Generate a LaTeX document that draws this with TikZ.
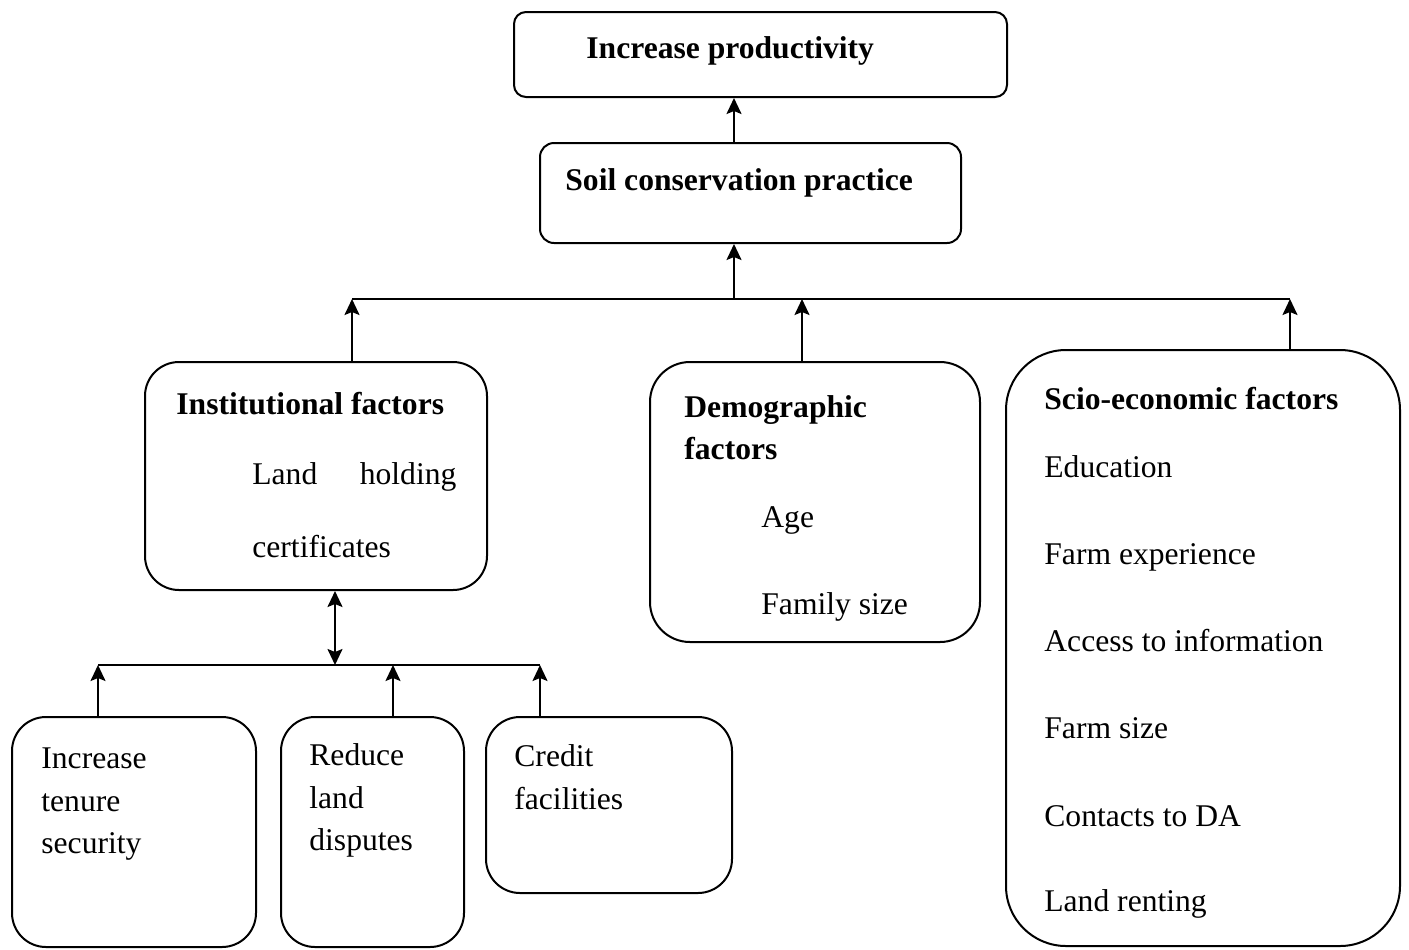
\documentclass[tikz,border=0pt]{standalone}
\usepackage{fontspec}
\setmainfont{Liberation Serif}
\usetikzlibrary{arrows.meta}
\begin{document}
\begin{tikzpicture}[x=0.5pt,y=-0.5pt,
  box/.style={draw,line width=1pt,inner sep=0pt},
  lbl/.style={anchor=base west,inner sep=0pt,font=\fontsize{15.8}{19}\selectfont},
  blbl/.style={anchor=base west,inner sep=0pt,font=\fontsize{15.8}{19}\selectfont\bfseries},
  link/.style={line width=1pt},
  tip/.tip={Stealth[length=8pt,width=7.5pt,inset=1.5pt]},
  arr/.style={link,-tip},
  darr/.style={link,tip-tip}]
\useasboundingbox (0,0) rectangle (1409,949);

% boxes
\node[box,rounded corners=6pt,minimum width=246.5pt,minimum height=42.5pt] (top) at (760.5,54.5) {};
\node[box,rounded corners=7pt,minimum width=210.5pt,minimum height=50pt] (soil) at (750.5,193) {};
\node[box,rounded corners=17pt,minimum width=171pt,minimum height=114pt] (inst) at (316,476) {};
\node[box,rounded corners=20pt,minimum width=165pt,minimum height=140pt] (demo) at (815,502) {};
\node[box,rounded corners=30pt,minimum width=197pt,minimum height=298pt] (scio) at (1203,648) {};
\node[box,rounded corners=17pt,minimum width=122pt,minimum height=115pt] (boxA) at (134,832) {};
\node[box,rounded corners=17pt,minimum width=91.5pt,minimum height=115pt] (boxB) at (372.5,832) {};
\node[box,rounded corners=17pt,minimum width=123pt,minimum height=88pt] (boxC) at (609,805) {};

% texts
\node[blbl] (tTop) at (586,58) {Increase productivity};
\node[blbl] (tSoil) at (565,190) {Soil conservation practice};

\node[blbl] (tInst) at (176,414) {Institutional factors};
\node[lbl] (tInst1) at (252,484) {\makebox[102pt][s]{Land holding}};
\node[lbl] (tInst2) at (252,557) {certificates};

\node[blbl] (tDemo) at (684,417) {Demographic};
\node[blbl] (tDemo1) at (684,459) {factors};
\node[lbl] (tDemo2) at (761,527) {Age};
\node[lbl] (tDemo3) at (761,614) {Family size};

\node[blbl] (tScio) at (1044,409) {Scio-economic factors};
\node[lbl] (tScio1) at (1044,477) {Education};
\node[lbl] (tScio2) at (1044,564) {Farm experience};
\node[lbl] (tScio3) at (1044,651) {Access to information};
\node[lbl] (tScio4) at (1044,738) {Farm size};
\node[lbl] (tScio5) at (1044,826) {Contacts to DA};
\node[lbl] (tScio6) at (1044,911) {Land renting};

\node[lbl] (tA1) at (41,768) {Increase};
\node[lbl] (tA2) at (41,811) {tenure};
\node[lbl] (tA3) at (41,853) {security};

\node[lbl] (tB1) at (309,765) {Reduce};
\node[lbl] (tB2) at (309,808) {land};
\node[lbl] (tB3) at (309,850) {disputes};

\node[lbl] (tC1) at (514,766) {Credit};
\node[lbl] (tC2) at (514,809) {facilities};

% upper connectors
\coordinate (bus) at (734,299);
\coordinate (busL) at (352,299);
\coordinate (busD) at (802,299);
\coordinate (busR) at (1290,299);
\draw[link] (busL) -- (busR);
\draw[arr] (bus) -- (bus |- soil.south);
\draw[arr] (bus |- soil.north) -- (bus |- top.south);
\draw[arr] (busL |- inst.north) -- (busL);
\draw[arr] (busD |- demo.north) -- (busD);
\draw[arr] (busR |- scio.north) -- (busR);

% lower connectors
\coordinate (lbL) at (98,665);
\coordinate (lbM) at (335,665);
\coordinate (lbB) at (393,665);
\coordinate (lbR) at (540,665);
\draw[link] (lbL) -- (lbR);
\draw[darr] (lbM) -- (lbM |- inst.south);
\draw[arr] (lbL |- boxA.north) -- (lbL);
\draw[arr] (lbB |- boxB.north) -- (lbB);
\draw[arr] (lbR |- boxC.north) -- (lbR);
\end{tikzpicture}
\end{document}
